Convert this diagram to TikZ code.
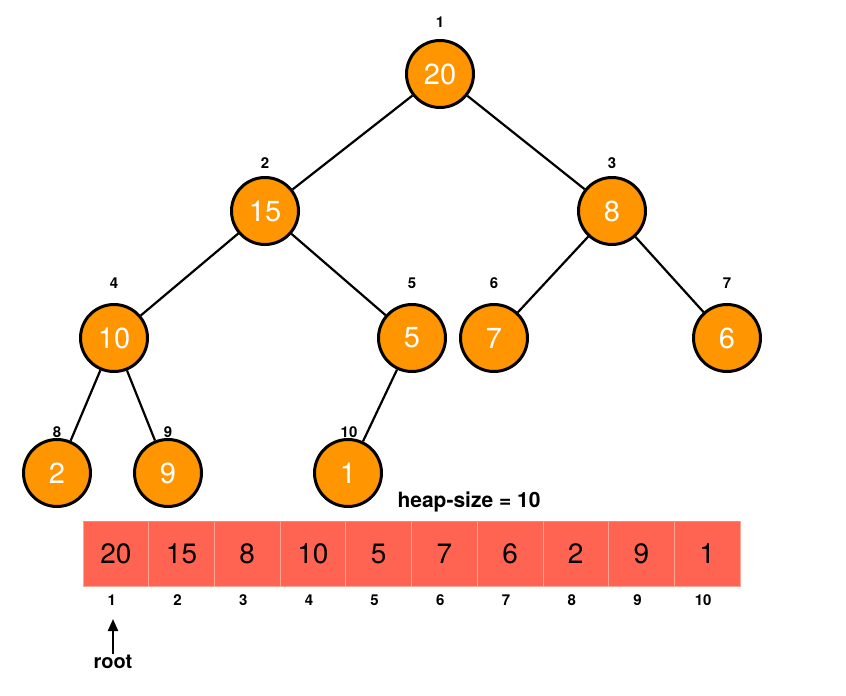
\documentclass[tikz,border=0pt]{standalone}
\usepackage{fontspec}
\setmainfont{TeX Gyre Heros}
\usepackage{tikz}
\usetikzlibrary{arrows.meta,shapes}
\definecolor{heaporange}{RGB}{255,149,0}
\definecolor{cellred}{RGB}{255,100,82}
\definecolor{cellline}{RGB}{255,165,150}
\newcommand{\vertsize}{67pt}
\newcommand{\cellw}{65.7}

\begin{document}
\begin{tikzpicture}[x=1pt,y=-1pt]
        \tikzset{vert/.style = {circle, draw, line width=3pt, fill=heaporange, minimum size=\vertsize, inner sep=0pt, text=white, font=\fontsize{29}{29}\selectfont},
                 idx/.style = {inner sep=1pt, font=\bfseries\fontsize{15}{15}\selectfont},
                 cell/.style = {rectangle, draw=cellline, line width=0.8pt, fill=cellred, minimum width=\cellw pt, minimum height=65pt, inner sep=0pt, font=\fontsize{28}{28}\selectfont},
                 tree/.style = {line width=2.2pt}}
        \useasboundingbox (0,0) rectangle (846,696);
        %\draw[help lines,step=50] (0,0) grid (846,696);
        \node[vert] (v1) at (440,74) {20};
        \node[vert] (v2) at (265,211) {15};
        \node[vert] (v3) at (612,211) {8};
        \node[vert] (v4) at (114,338) {10};
        \node[vert] (v5) at (412,338) {5};
        \node[vert] (v6) at (494,338) {7};
        \node[vert] (v7) at (727,338) {6};
        \node[vert] (v8) at (57,473) {2};
        \node[vert] (v9) at (168,473) {9};
        \node[vert] (v10) at (348,473) {1};
        \foreach \a/\b in {1/2,1/3,2/4,2/5,3/6,3/7,4/8,4/9,5/10}
            \draw[tree] (v\a) -- (v\b);
        \foreach \i/\x/\y in {1/440/22,2/265/163,3/612/163,4/114/283,5/412/283,6/494/283,7/727/283,8/57/432,9/168/432,10/349/432}
            \node[idx] (l\i) at (\x,\y) {\i};
        \foreach \val [count=\i] in {20,15,8,10,5,7,6,2,9,1}{
            \node[cell] (c\i) at ({83+\cellw*(\i-0.5)},554) {\val};
            \node[idx] (n\i) at ({79+\cellw*(\i-0.5)},600) {\i};
        }
        \draw[gray!70, line width=0.8pt] (c1.north west) -- (c10.north east);
        \node[font=\bfseries\fontsize{21}{21}\selectfont] (hsize) at (469,502) {heap-size = 10};
        \node[inner sep=1pt, font=\bfseries\fontsize{20}{20}\selectfont] (root) at (113,662) {root};
        \coordinate (rtip) at (113,619);
        \draw[-{Triangle[length=12pt,width=10pt]}, line width=2.2pt] (root.north) -- (rtip);
    \end{tikzpicture}
\end{document}
